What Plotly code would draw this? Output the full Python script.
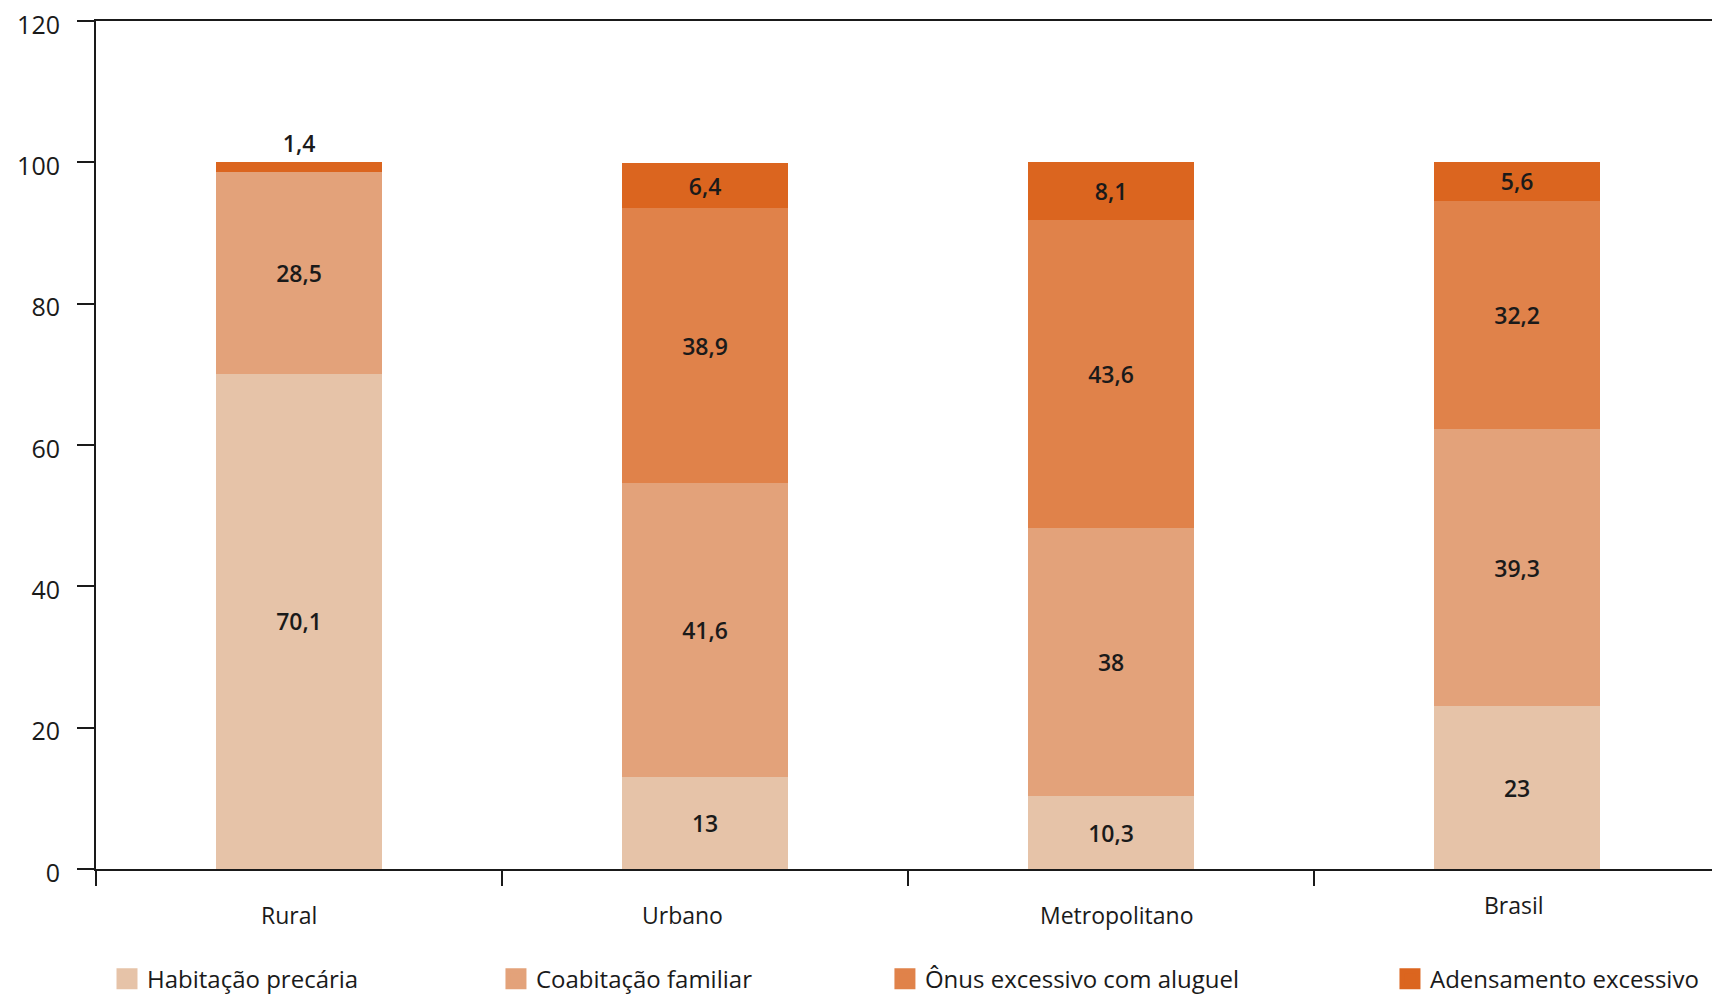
import plotly.graph_objects as go

# Categories and shares (%) of each housing-deficit component
categorias = ["Rural", "Urbano", "Metropolitano", "Brasil"]
habitacao_precaria = [70.1, 13.0, 10.3, 23.0]
coabitacao_familiar = [28.5, 41.6, 38.0, 39.3]
onus_aluguel = [0.0, 38.9, 43.6, 32.2]
adensamento = [1.4, 6.4, 8.1, 5.6]

series = [
    ("Habitação precária", habitacao_precaria, "#E6C3A8"),
    ("Coabitação familiar", coabitacao_familiar, "#E3A27A"),
    ("Ônus excessivo com aluguel", onus_aluguel, "#E0824A"),
    ("Adensamento excessivo", adensamento, "#DB651F"),
]

# Legend anchor for each series (container x) — one legend box per entry
legend_x = [0.0625, 0.2897, 0.5169, 0.8119]
legend_names = ["legend", "legend2", "legend3", "legend4"]

FONT = "Open Sans"
INK = "#1a1a1a"


def fmt(v):
    if v == 0:
        return ""
    s = f"{v:g}"
    return s.replace(".", ",")


fig = go.Figure()
for i, (name, vals, color) in enumerate(series):
    is_top = i == len(series) - 1
    positions = ["outside" if (is_top and v < 3) else "inside" for v in vals]
    fig.add_trace(
        go.Bar(
            x=categorias,
            y=vals,
            name=name,
            marker=dict(color=color, line=dict(width=0)),
            text=[fmt(v) for v in vals],
            textposition=positions,
            insidetextanchor="middle",
            textangle=0,
            constraintext="none",
            textfont=dict(family=FONT, size=23, color=INK, weight=600),
            outsidetextfont=dict(family=FONT, size=23, color=INK, weight=600),
            cliponaxis=False,
            showlegend=False,
            hoverinfo="skip",
        )
    )

# Legend keys: large square swatches, one per series
for i, (name, vals, color) in enumerate(series):
    fig.add_trace(
        go.Scatter(
            x=[None],
            y=[None],
            mode="markers",
            name=name,
            marker=dict(symbol="square", size=16, color=color,
                        line=dict(width=5, color=color)),
            legend=legend_names[i],
            showlegend=True,
            hoverinfo="skip",
        )
    )

# Category labels under the axis
label_shift = {"Rural": (-10, -46), "Urbano": (-23, -46), "Metropolitano": (5, -46), "Brasil": (-3, -36)}
annotations = []
for c in categorias:
    dx, dy = label_shift[c]
    annotations.append(
        dict(
            x=c, y=0, xref="x", yref="y", text=c, showarrow=False,
            xshift=dx, yshift=dy, yanchor="middle",
            font=dict(family=FONT, size=23, color=INK),
        )
    )

layout_legends = {}
for i, ln in enumerate(legend_names):
    layout_legends[ln] = dict(
        x=legend_x[i], y=0.017, xref="container", yref="container",
        xanchor="left", yanchor="middle",
        orientation="h", bgcolor="rgba(0,0,0,0)", borderwidth=0,
        itemsizing="trace",
        font=dict(family=FONT, size=24, color=INK),
    )

fig.update_layout(
    width=1712,
    height=996,
    barmode="stack",
    bargap=0.59,
    plot_bgcolor="white",
    paper_bgcolor="white",
    margin=dict(l=96, r=0, t=21, b=127, autoexpand=False),
    showlegend=True,
    annotations=annotations,
    font=dict(family=FONT, color=INK),
    xaxis=dict(
        type="category",
        range=[-0.5, 3.48],
        showticklabels=False,
        ticks="outside",
        tickson="boundaries",
        ticklen=15,
        tickwidth=2,
        tickcolor=INK,
        showline=True,
        linewidth=2,
        linecolor=INK,
        mirror=True,
        showgrid=False,
        zeroline=False,
        fixedrange=True,
    ),
    yaxis=dict(
        range=[0, 120],
        tickvals=[0, 20, 40, 60, 80, 100, 120],
        ticks="outside",
        ticklen=17,
        tickwidth=2,
        tickcolor=INK,
        ticklabelstandoff=12,
        ticklabelshift=4,
        showline=True,
        linewidth=2,
        linecolor=INK,
        showgrid=False,
        zeroline=False,
        tickfont=dict(family=FONT, size=25, color=INK),
        fixedrange=True,
    ),
    **layout_legends,
)

fig.write_html("out.html")
